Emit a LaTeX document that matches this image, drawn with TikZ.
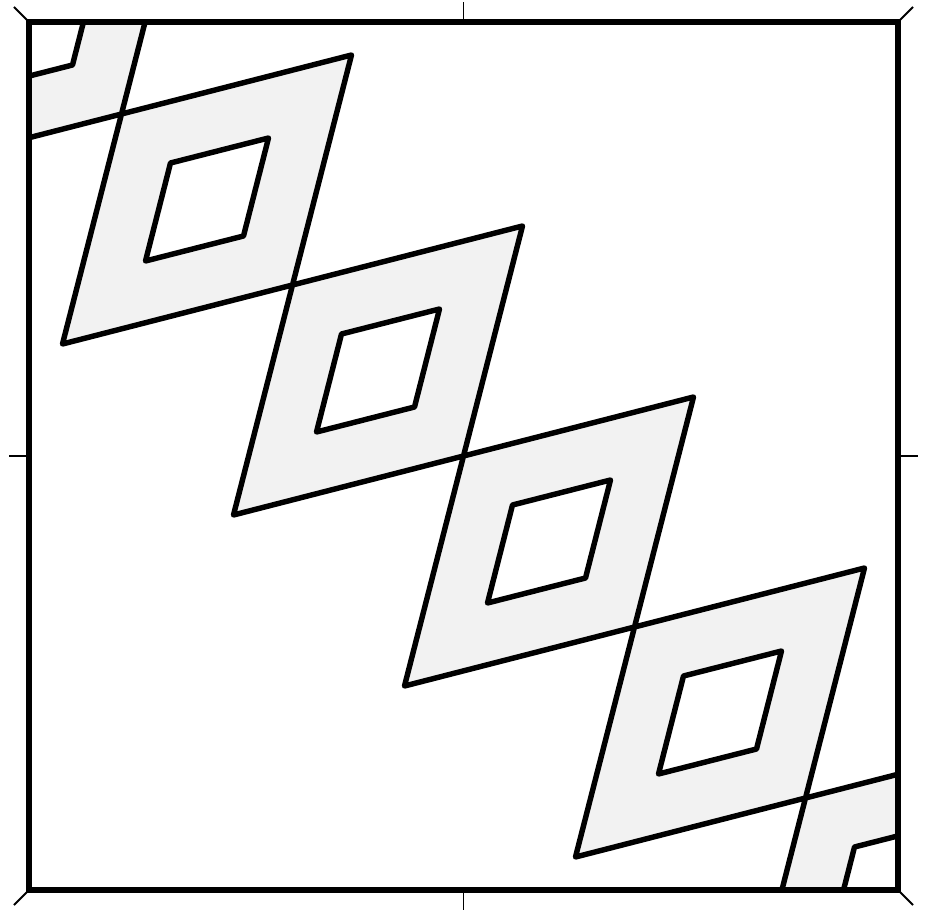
\documentclass[tikz,border=0pt]{standalone}
\begin{document}
\begin{tikzpicture}[x=0.02cm, y=-0.02cm,
    tile/.style={draw, fill=black!5, line width=3.1pt, line join=round, even odd rule},
    frame/.style={draw, line width=3.4pt},
    tick/.style={draw, line width=1.1pt}]
  \useasboundingbox (0,0) rectangle (930,911);
  \coordinate (nw) at (29,22);
  \coordinate (ne) at (898,22);
  \coordinate (sw) at (29,890);
  \coordinate (se) at (898,890);
  % chain of tiles, clipped to the frame
  \begin{scope}
    \clip (nw) rectangle (se);
    \foreach \k in {-3,...,2} {
      \begin{scope}[shift={(171*\k,171*\k)}]
        \path[tile] (463.5,456) -- ++(230,-59) -- ++(-59,230) -- ++(-230,59) -- cycle
          (512.5,505) -- ++(98,-25) -- ++(-25,98) -- ++(-98,25) -- cycle;
      \end{scope}
    }
  \end{scope}
  \draw[frame] (nw) rectangle (se);
  % ticks
  \draw[tick] (463.5,22) -- (463.5,2);
  \draw[tick] (463.5,890) -- (463.5,910);
  \draw[tick] (29,456) -- (9,456);
  \draw[tick] (898,456) -- (918,456);
  \draw[tick] (nw) -- ++(-15,-15);
  \draw[tick] (ne) -- ++(15,-15);
  \draw[tick] (sw) -- ++(-15,15);
  \draw[tick] (se) -- ++(15,15);
\end{tikzpicture}
\end{document}
